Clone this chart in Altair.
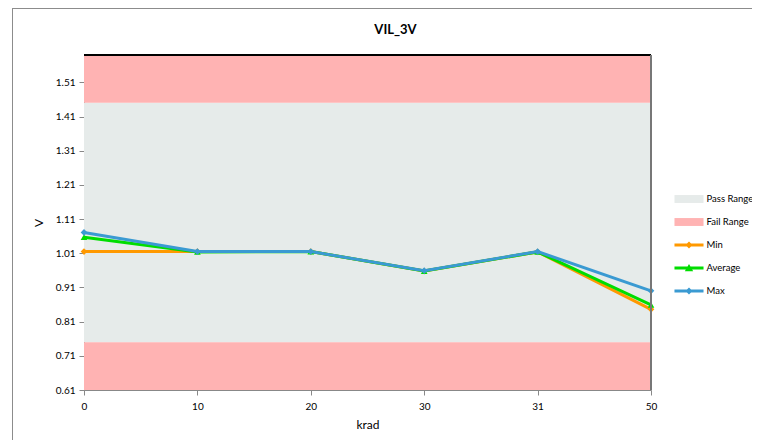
import altair as alt
import pandas as pd

krad = ["0", "10", "20", "30", "31", "50"]
min_v = [1.015, 1.015, 1.015, 0.958, 1.014, 0.846]
avg_v = [1.057, 1.014, 1.015, 0.958, 1.014, 0.859]
max_v = [1.071, 1.015, 1.015, 0.959, 1.015, 0.900]

pass_lo, pass_hi = 0.75, 1.45
axis_lo, axis_hi = 0.61, 1.59
y_ticks = [0.61, 0.71, 0.81, 0.91, 1.01, 1.11, 1.21, 1.31, 1.41, 1.51]

names = ["Pass Range", "Fail Range", "Min", "Average", "Max"]
colors = ["#E6EBEA", "#FFB3B3", "#FF9900", "#00DD00", "#3A9AD2"]
color_of = dict(zip(names, colors))

FONT = "Lato"

rows = []
for s, vals in [("Min", min_v), ("Average", avg_v), ("Max", max_v)]:
    for k, v in zip(krad, vals):
        rows.append({"krad": k, "value": v, "series": s})
df = pd.DataFrame(rows)

bands = pd.DataFrame({
    "lo": [axis_lo, pass_lo, pass_hi],
    "hi": [pass_lo, pass_hi, axis_hi],
    "band": ["Fail Range", "Pass Range", "Fail Range"],
})

W, H = 567, 335

# legend symbol shapes (unit coordinates)
rect_path = "M-1.32,-0.36H1.32V0.36H-1.32Z"
bar = "M-1.32,-0.13H1.32V0.13H-1.32Z"
diamond_path = bar + "M0,-0.32L0.32,0L0,0.32L-0.32,0Z"
tri_path = bar + "M0,-0.36L0.38,0.3H-0.38Z"
legend_shapes = [rect_path, rect_path, diamond_path, tri_path, diamond_path]

yscale = alt.Scale(domain=[axis_lo, axis_hi], nice=False, zero=False)
xscale = alt.Scale(type="point", padding=0, domain=krad)
cscale = alt.Scale(domain=names, range=colors)

y_axis = alt.Axis(values=y_ticks, tickCount=20, format=".2f", grid=False,
                  domainColor="#888888", tickColor="#888888",
                  labelFont=FONT, labelFontSize=10, labelColor="#000000", labelPadding=4,
                  labelOverlap=False,
                  titleFont=FONT, titleFontSize=12, titleFontWeight="normal", titleColor="#000000",
                  titleAngle=-90, titlePadding=10, tickSize=5)
x_axis = alt.Axis(labelAngle=0, grid=False, domainColor="#888888", tickColor="#888888",
                  labelFont=FONT, labelFontSize=10, labelColor="#000000", labelPadding=6,
                  titleFont=FONT, titleFontSize=12, titleFontWeight="normal", titleColor="#000000",
                  titlePadding=8, tickSize=5)

x_enc = alt.X("krad:O", scale=xscale, sort=krad, title="krad", axis=x_axis)
y_enc = alt.Y("value:Q", scale=yscale, title="V", axis=y_axis)

layers = []
for b in ["Pass Range", "Fail Range"]:
    layers.append(
        alt.Chart(bands).transform_filter(alt.datum.band == b).mark_rect(color=color_of[b]).encode(
            x=alt.value(0), x2=alt.value(W),
            y=alt.Y("lo:Q", scale=yscale, title="V", axis=y_axis),
            y2="hi:Q",
        )
    )

point_shapes = {"Min": "diamond", "Average": "triangle-up", "Max": "diamond"}
for s in ["Min", "Average", "Max"]:
    base = alt.Chart(df).transform_filter(alt.datum.series == s)
    layers.append(base.mark_line(strokeWidth=3, color=color_of[s]).encode(x=x_enc, y=y_enc))
    layers.append(base.mark_point(filled=True, size=45, opacity=1, shape=point_shapes[s],
                                  color=color_of[s]).encode(x=x_enc, y=y_enc))

# plot area border: black top, gray right
layers.append(alt.Chart(df).mark_rule(color="#000000", strokeWidth=1.5).encode(
    x=alt.value(0), x2=alt.value(W), y=alt.value(0)))
layers.append(alt.Chart(df).mark_rule(color="#777777", strokeWidth=1.5).encode(
    x=alt.value(W), y=alt.value(0), y2=alt.value(H)))
# outer chart frame (top and left edges)
layers.append(alt.Chart(df).mark_rule(color="#8C8C8C", strokeWidth=1).encode(
    x=alt.value(-71.5), x2=alt.value(676), y=alt.value(-46.5)))
layers.append(alt.Chart(df).mark_rule(color="#8C8C8C", strokeWidth=1).encode(
    x=alt.value(-71.5), y=alt.value(-46.5), y2=alt.value(H + 60)))

legend = alt.Legend(
    title=None, orient="none", legendX=594, legendY=133,
    labelFont=FONT, labelFontSize=9.5, labelColor="#000000",
    symbolSize=484, rowPadding=7, labelOffset=6.5, labelLimit=200,
    symbolStrokeWidth=0, symbolOpacity=1, values=names,
)

legend_layer = alt.Chart(df).transform_filter("false").mark_point(filled=True, size=484, opacity=1).encode(
    x=x_enc, y=y_enc,
    color=alt.Color("series:N", scale=cscale, legend=legend),
    shape=alt.Shape("series:N", scale=alt.Scale(domain=names, range=legend_shapes), legend=legend),
)
layers.append(legend_layer)

chart = alt.layer(*layers).properties(
    width=W, height=H,
    title=alt.TitleParams("VIL_3V", font=FONT, fontSize=13, fontWeight="bold", color="#000000",
                          offset=0, dy=28.5, dx=28, frame="group"),
    autosize=alt.AutoSizeParams(type="none"),
    padding={"left": 76, "top": 47, "right": 101, "bottom": 50},
).configure_view(stroke=None).configure(background="white")

chart.save("out.html", embed_options={"renderer": "svg", "actions": False})
